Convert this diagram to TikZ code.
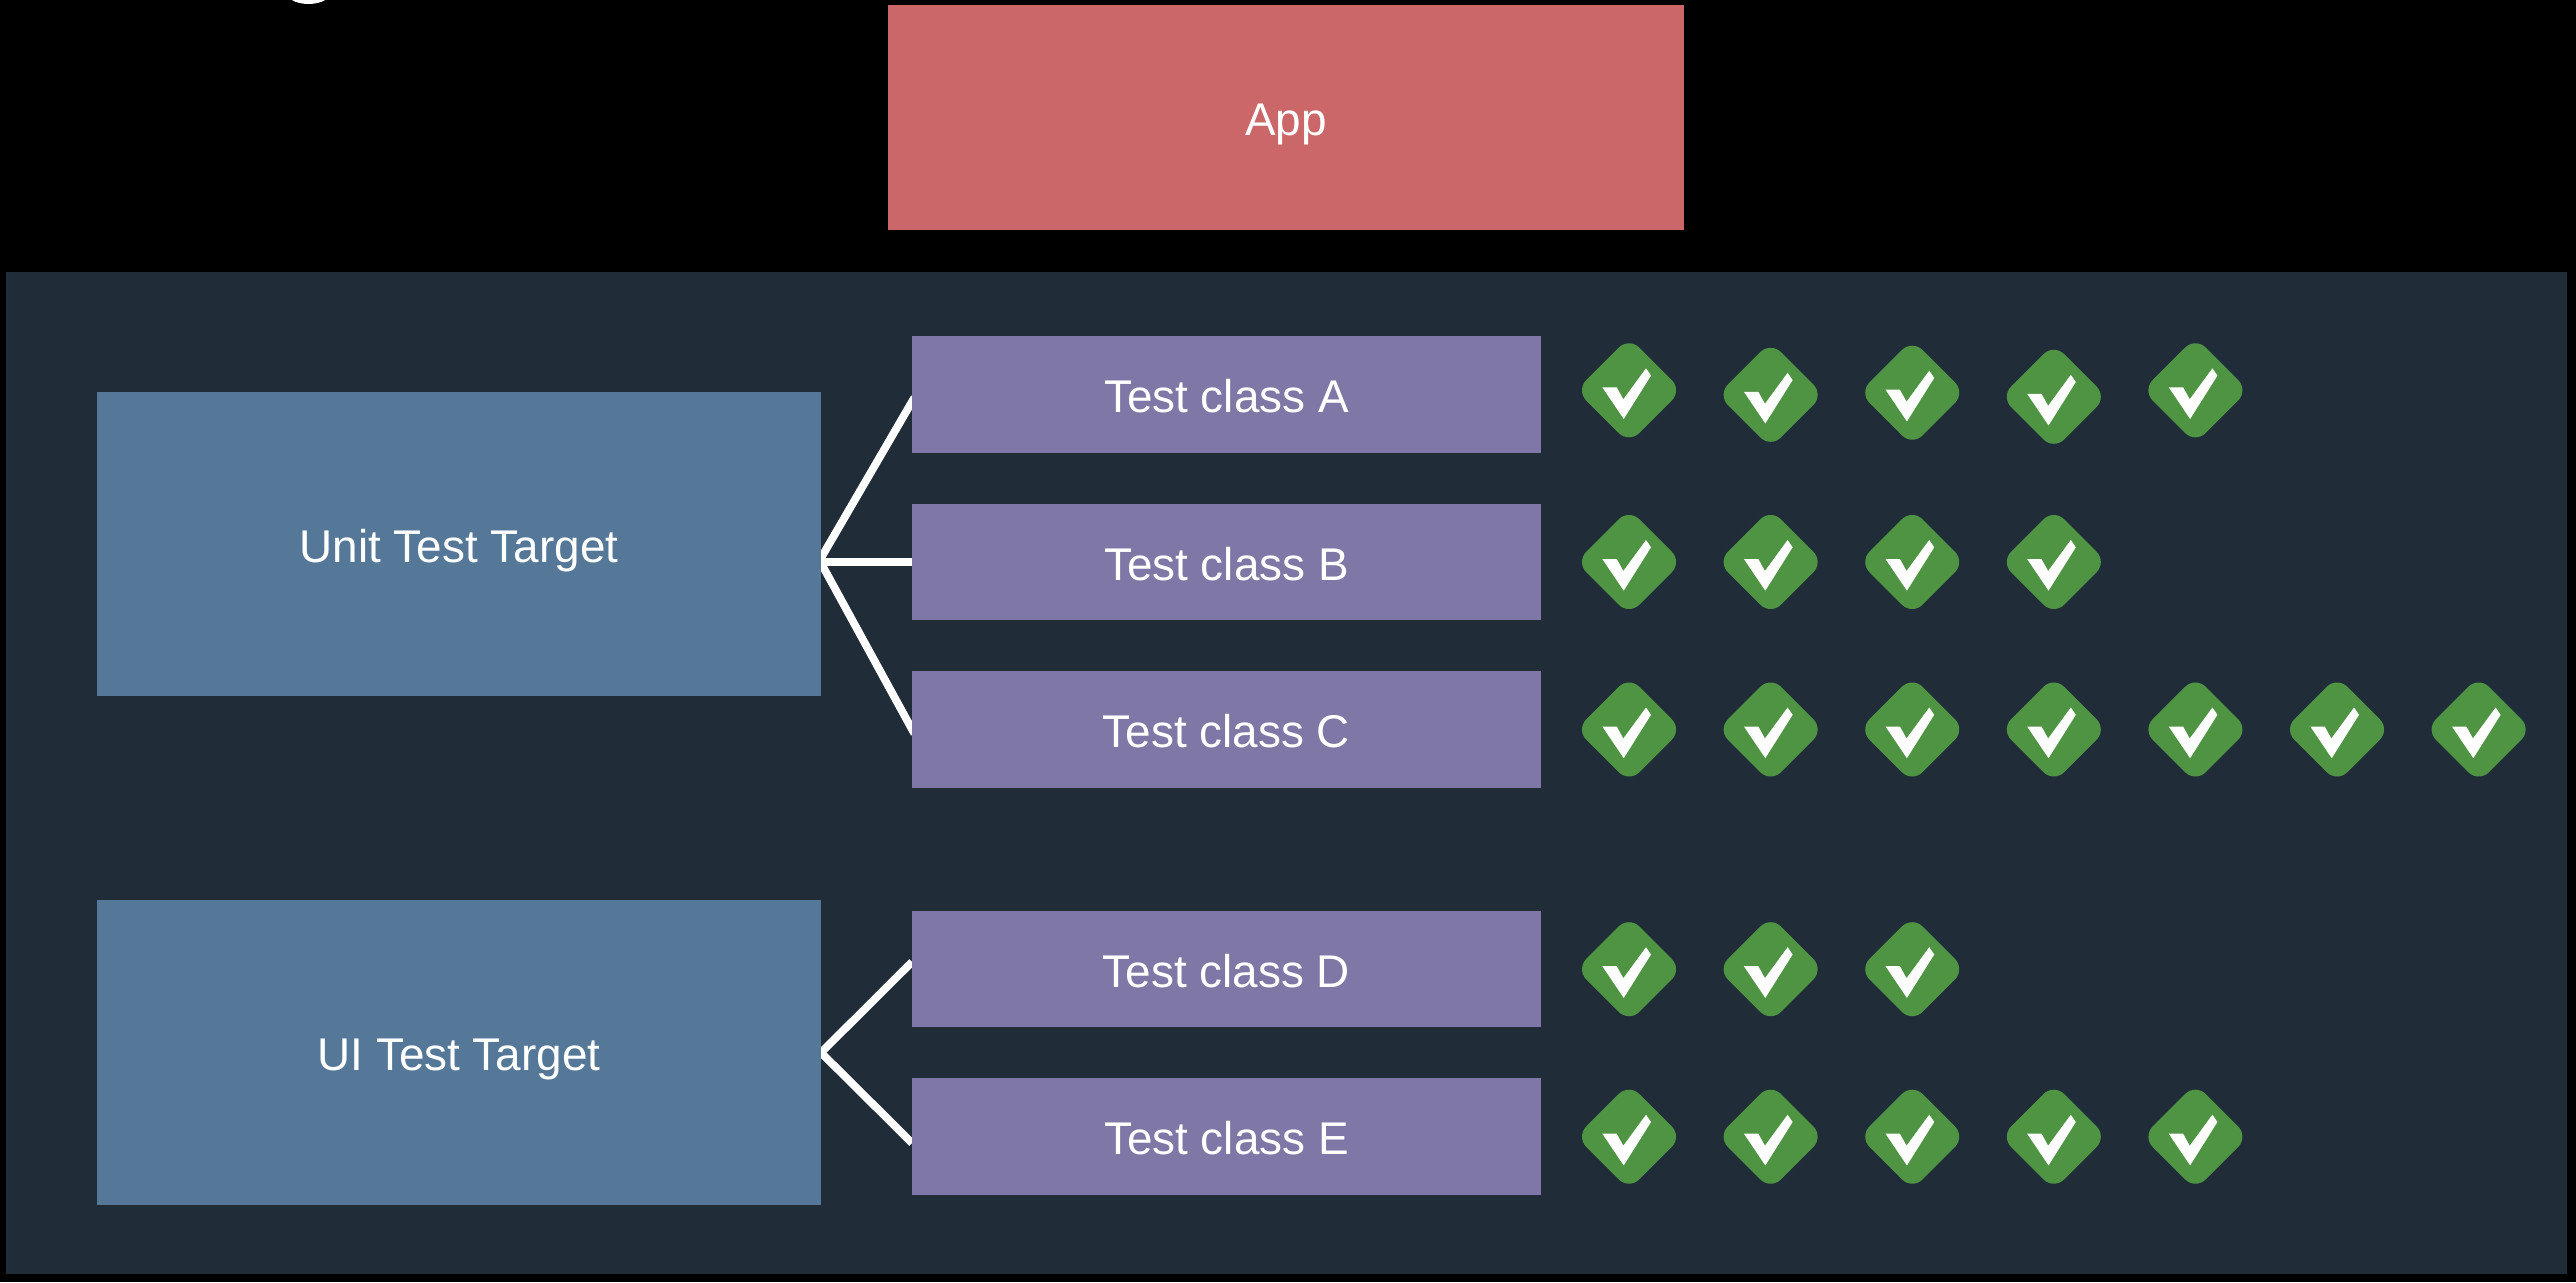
\documentclass[tikz,border=0pt]{standalone}
\usepackage{fontspec}
\setmainfont{Liberation Sans}
\usetikzlibrary{positioning,shapes.geometric,backgrounds}

\definecolor{panelblue}{HTML}{202D39}
\definecolor{targetblue}{HTML}{557898}
\definecolor{classpurple}{HTML}{7F77A6}
\definecolor{apppink}{HTML}{CB6769}
\definecolor{passgreen}{HTML}{4E9443}

\tikzset{
    labelbox/.style={rectangle, inner sep=0pt, outer sep=0pt, text=white,
        font=\fontsize{13.05}{15}\selectfont, text height=10.4pt, text depth=0pt},
    appbox/.style={labelbox, fill=apppink, minimum width=7.96cm, minimum height=2.247cm},
    targetbox/.style={labelbox, fill=targetblue, minimum width=7.24cm, minimum height=3.045cm},
    classbox/.style={labelbox, fill=classpurple, minimum width=6.29cm, minimum height=1.167cm},
    link/.style={draw=white, line width=0.078cm, shorten <=-0.05cm},
    linkunder/.style={link, shorten >=-0.05cm},
    passmark/.style={diamond, aspect=1, fill=passgreen, inner sep=0pt, outer sep=0pt,
        minimum size=1.06cm, rounded corners=1.45mm,
        path picture={\fill[white, sharp corners, shift={(path picture bounding box.center)}]
            (-.267,.03) -- (-.123,.03) -- (-.057,-.09) -- (.17,.22) -- (.22,.147) -- (-.053,-.287) -- cycle;}}
}

\begin{document}
\begin{tikzpicture}[%
        node distance=1.673cm,
        on grid
        ]

        \useasboundingbox (0,0) rectangle (25.76,-12.82);

        \node[appbox] (app) at (12.859,-1.173) {App};

        \node[targetbox] (unit) at (4.59,-5.44) {Unit Test Target};
        \node[targetbox] (ui) at (4.59,-10.526) {UI Test Target};

        \node[classbox] (classA) at (12.265,-3.947) {Test class A};
        \node[classbox] (classB) [below of=classA] {Test class B};
        \node[classbox] (classC) [below of=classB] {Test class C};
        \node[classbox] (classD) at (12.265,-9.69) {Test class D};
        \node[classbox] (classE) [below of=classD] {Test class E};

        % the first row is not quite level in the reference
        \foreach \i/\marky in {1/-3.903,2/-3.948,3/-3.927,4/-3.968,5/-3.903}
            \node[passmark] (markA\i) at ({16.29+(\i-1)*1.416},\marky) {};
        \foreach \row/\marky/\marks in {B/-5.62/4,C/-7.295/7,D/-9.692/3,E/-11.367/5}
            \foreach \i in {1,...,\marks}
                \node[passmark] (mark\row\i) at ({16.29+(\i-1)*1.416},\marky) {};

        \begin{scope}[on background layer]
            \fill[black] (0,0) rectangle (25.76,-12.82);
            \node[inner sep=0pt, fill=panelblue, minimum width=25.613cm, minimum height=10.014cm] (panel) at (12.864,-7.73) {};
            \fill[white] (2.92,0) .. controls (3.0,-0.053) and (3.17,-0.053) .. (3.25,0);

            \draw[linkunder] ([yshift=-0.14cm]unit.east) -- ([yshift=-0.07cm]classA.west);
            \draw[linkunder] ([yshift=-0.18cm]unit.east) -- (classB.west);
            \draw[linkunder] ([yshift=-0.19cm]unit.east) -- (classC.west);
            \draw[link] (ui.east) -- ([yshift=0.07cm]classD.west);
            \draw[link] (ui.east) -- ([yshift=-0.067cm]classE.west);
        \end{scope}

\end{tikzpicture}
\end{document}
